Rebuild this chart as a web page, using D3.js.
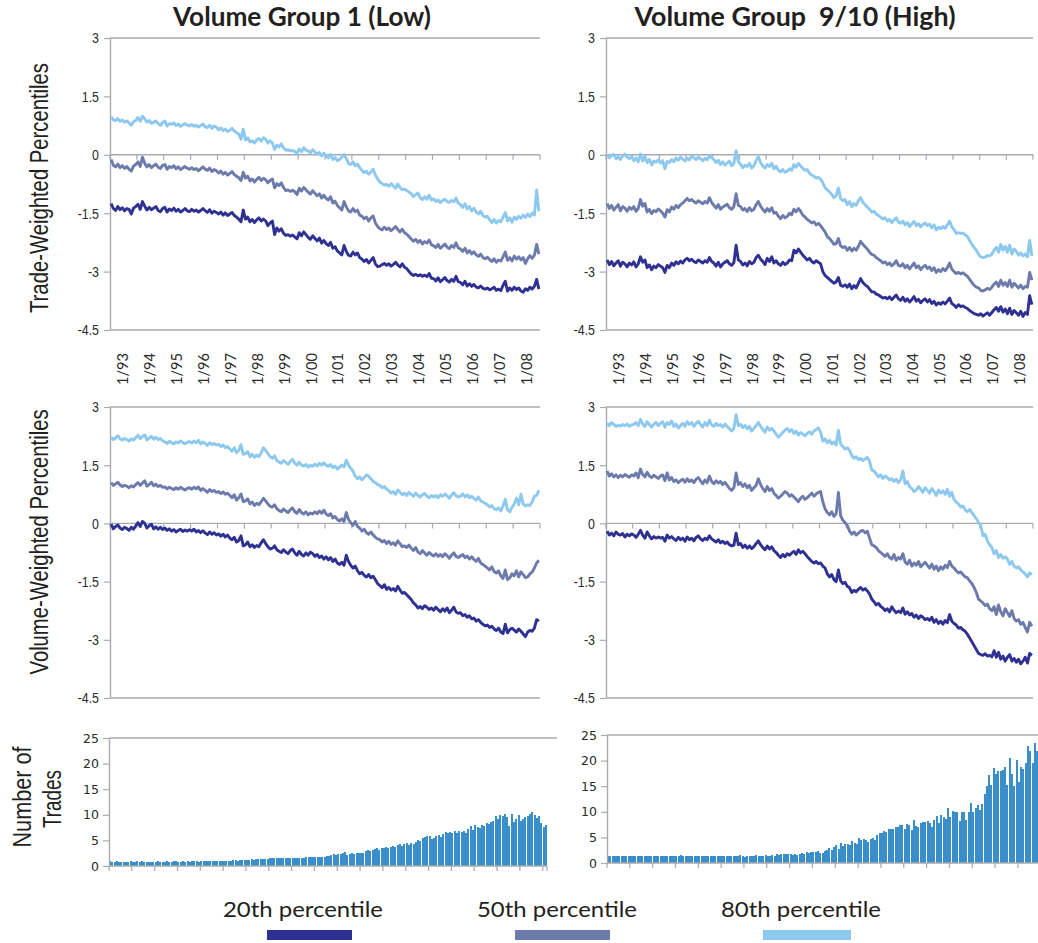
<!DOCTYPE html>
<html lang="en">
<head>
<meta charset="utf-8">
<title>Volume Group percentiles</title>
<script src="https://cdn.jsdelivr.net/npm/d3@7"></script>
<style>
body { margin: 0; background: #fff; }
svg { display: block; }
</style>
</head>
<body>
<script>
// ---------------- data ----------------
const years = ["93","94","95","96","97","98","99","00","01","02","03","04","05","06","07","08"];
const yearLabels = years.map(y => "1/" + y);
const pctLabels = ["20th percentile", "50th percentile", "80th percentile"];
const lineTicks = [3, 1.5, 0, -1.5, -3, -4.5];
const tradeTicks = [0, 5, 10, 15, 20, 25];
const titles = ["Volume Group 1 (Low)", "Volume Group  9/10 (High)"];
const rowTitles = ["Trade-Weighted Percentiles", "Volume-Weighted Percentiles"];

// one row per year, Jan..Dec
const tradeLow20 = [
-1.25,-1.38,-1.43,-1.33,-1.41,-1.36,-1.44,-1.38,-1.40,-1.52,-1.37,-1.33,
-1.27,-1.40,-1.20,-1.32,-1.42,-1.35,-1.41,-1.37,-1.33,-1.43,-1.46,-1.38,
-1.35,-1.47,-1.39,-1.43,-1.37,-1.45,-1.40,-1.47,-1.43,-1.38,-1.44,-1.46,
-1.40,-1.45,-1.42,-1.47,-1.43,-1.38,-1.44,-1.48,-1.41,-1.50,-1.45,-1.48,
-1.52,-1.47,-1.55,-1.49,-1.56,-1.52,-1.48,-1.56,-1.60,-1.65,-1.72,-1.42,
-1.65,-1.60,-1.72,-1.66,-1.74,-1.67,-1.62,-1.70,-1.65,-1.70,-1.82,-1.75,
-1.70,-2.05,-1.88,-1.96,-1.90,-2.02,-2.07,-2.05,-2.09,-2.06,-2.11,-2.16,
-2.00,-2.08,-1.98,-2.05,-2.12,-2.17,-2.08,-2.15,-2.21,-2.14,-2.27,-2.20,
-2.28,-2.33,-2.25,-2.40,-2.36,-2.47,-2.52,-2.57,-2.33,-2.48,-2.58,-2.60,
-2.50,-2.57,-2.52,-2.64,-2.68,-2.74,-2.69,-2.78,-2.71,-2.64,-2.80,-2.87,
-2.86,-2.82,-2.79,-2.84,-2.80,-2.86,-2.82,-2.76,-2.83,-2.88,-2.80,-2.89,
-2.92,-3.00,-3.06,-3.10,-3.07,-3.11,-3.08,-3.12,-3.09,-3.13,-3.05,-3.17,
-3.18,-3.24,-3.16,-3.26,-3.21,-3.15,-3.23,-3.27,-3.20,-3.25,-3.12,-3.26,
-3.28,-3.34,-3.25,-3.37,-3.31,-3.38,-3.33,-3.40,-3.42,-3.37,-3.43,-3.45,
-3.42,-3.47,-3.44,-3.40,-3.48,-3.45,-3.49,-3.35,-3.25,-3.50,-3.42,-3.48,
-3.40,-3.46,-3.42,-3.50,-3.53,-3.44,-3.48,-3.40,-3.45,-3.38,-3.20,-3.45
];
const tradeLow50 = [
-0.12,-0.27,-0.31,-0.24,-0.33,-0.28,-0.35,-0.30,-0.37,-0.42,-0.29,-0.25,
-0.18,-0.30,-0.06,-0.22,-0.31,-0.25,-0.33,-0.28,-0.24,-0.32,-0.35,-0.27,
-0.25,-0.37,-0.30,-0.33,-0.28,-0.36,-0.31,-0.38,-0.34,-0.30,-0.35,-0.37,
-0.33,-0.38,-0.35,-0.41,-0.36,-0.31,-0.37,-0.40,-0.34,-0.43,-0.38,-0.41,
-0.47,-0.42,-0.50,-0.45,-0.52,-0.48,-0.43,-0.51,-0.55,-0.59,-0.66,-0.45,
-0.60,-0.55,-0.67,-0.62,-0.70,-0.63,-0.58,-0.66,-0.60,-0.64,-0.72,-0.66,
-0.62,-0.85,-0.74,-0.79,-0.72,-0.84,-0.92,-0.90,-0.94,-0.91,-0.95,-1.02,
-0.86,-0.93,-0.84,-0.90,-0.96,-1.01,-0.92,-0.99,-1.05,-1.00,-1.11,-1.04,
-1.12,-1.16,-1.08,-1.24,-1.19,-1.30,-1.36,-1.42,-1.20,-1.33,-1.44,-1.47,
-1.38,-1.46,-1.42,-1.55,-1.58,-1.64,-1.60,-1.70,-1.62,-1.57,-1.75,-1.84,
-1.90,-1.93,-1.86,-1.92,-1.88,-1.95,-1.90,-1.84,-1.92,-1.98,-1.91,-2.00,
-2.04,-2.10,-2.16,-2.22,-2.17,-2.25,-2.20,-2.29,-2.23,-2.27,-2.19,-2.31,
-2.34,-2.38,-2.30,-2.40,-2.35,-2.29,-2.37,-2.41,-2.33,-2.38,-2.26,-2.39,
-2.42,-2.48,-2.40,-2.52,-2.46,-2.55,-2.49,-2.57,-2.61,-2.55,-2.64,-2.67,
-2.63,-2.69,-2.74,-2.67,-2.76,-2.70,-2.73,-2.62,-2.50,-2.71,-2.64,-2.73,
-2.60,-2.68,-2.62,-2.70,-2.64,-2.79,-2.67,-2.59,-2.66,-2.58,-2.30,-2.55
];
const tradeLow80 = [
0.97,0.90,0.88,0.93,0.86,0.89,0.84,0.87,0.82,0.76,0.85,0.88,
0.96,0.86,0.99,0.92,0.84,0.88,0.81,0.83,0.87,0.80,0.76,0.83,
0.87,0.74,0.80,0.78,0.82,0.75,0.79,0.73,0.77,0.80,0.76,0.74,
0.78,0.73,0.76,0.71,0.75,0.79,0.72,0.70,0.76,0.68,0.74,0.71,
0.64,0.69,0.62,0.66,0.60,0.63,0.68,0.61,0.57,0.53,0.40,0.66,
0.38,0.44,0.33,0.36,0.30,0.38,0.42,0.35,0.44,0.40,0.30,0.36,
0.30,0.14,0.25,0.20,0.28,0.17,0.12,0.13,0.10,0.11,0.09,0.03,
0.15,0.08,0.18,0.12,0.10,0.05,0.13,0.07,0.02,0.06,-0.03,0.04,
-0.05,-0.08,0.01,-0.12,-0.07,-0.15,-0.12,-0.06,0.01,-0.10,-0.22,-0.25,
-0.18,-0.28,-0.24,-0.33,-0.40,-0.46,-0.42,-0.50,-0.44,-0.37,-0.52,-0.62,
-0.70,-0.74,-0.78,-0.76,-0.81,-0.74,-0.80,-0.86,-0.75,-0.84,-0.90,-0.88,
-0.92,-0.96,-1.00,-1.07,-1.03,-0.98,-1.10,-1.15,-1.08,-1.14,-1.04,-1.16,
-1.13,-1.20,-1.16,-1.23,-1.18,-1.14,-1.20,-1.22,-1.17,-1.21,-1.11,-1.24,
-1.28,-1.35,-1.26,-1.39,-1.33,-1.44,-1.37,-1.47,-1.52,-1.45,-1.56,-1.60,
-1.58,-1.67,-1.74,-1.66,-1.75,-1.69,-1.72,-1.60,-1.48,-1.70,-1.62,-1.73,
-1.60,-1.66,-1.58,-1.63,-1.55,-1.61,-1.52,-1.59,-1.50,-1.55,-0.90,-1.45
];
const tradeHigh20 = [
-2.70,-2.82,-2.74,-2.85,-2.78,-2.72,-2.86,-2.76,-2.80,-2.88,-2.78,-2.83,
-2.75,-2.88,-2.80,-2.62,-2.76,-2.70,-2.90,-2.83,-2.95,-2.86,-2.90,-2.82,
-2.86,-2.90,-3.02,-2.84,-2.90,-2.78,-2.84,-2.75,-2.80,-2.73,-2.78,-2.70,
-2.66,-2.72,-2.68,-2.74,-2.77,-2.70,-2.74,-2.78,-2.72,-2.76,-2.64,-2.74,
-2.78,-2.86,-2.76,-2.88,-2.80,-2.76,-2.72,-2.80,-2.84,-2.77,-2.32,-2.70,
-2.74,-2.83,-2.78,-2.85,-2.74,-2.80,-2.76,-2.64,-2.58,-2.68,-2.74,-2.82,
-2.66,-2.74,-2.62,-2.78,-2.72,-2.80,-2.84,-2.76,-2.82,-2.78,-2.70,-2.72,
-2.45,-2.52,-2.42,-2.50,-2.58,-2.64,-2.70,-2.66,-2.74,-2.78,-2.72,-2.76,
-2.80,-3.00,-3.10,-3.15,-3.20,-3.25,-3.30,-3.26,-3.15,-3.35,-3.38,-3.34,
-3.40,-3.32,-3.44,-3.36,-3.42,-3.30,-3.18,-3.28,-3.34,-3.38,-3.45,-3.52,
-3.52,-3.58,-3.60,-3.64,-3.68,-3.66,-3.70,-3.65,-3.72,-3.66,-3.60,-3.70,
-3.74,-3.66,-3.76,-3.70,-3.78,-3.72,-3.64,-3.76,-3.71,-3.80,-3.74,-3.70,
-3.78,-3.72,-3.82,-3.76,-3.86,-3.80,-3.84,-3.78,-3.83,-3.76,-3.68,-3.82,
-3.86,-3.92,-3.85,-3.90,-3.88,-3.92,-3.95,-4.00,-4.04,-4.08,-4.10,-4.12,
-4.08,-4.14,-4.10,-4.06,-4.12,-4.05,-3.98,-3.92,-4.02,-3.90,-4.04,-3.96,
-4.08,-3.94,-4.10,-4.00,-4.06,-4.12,-4.02,-4.15,-4.05,-4.10,-3.62,-3.85
];
const tradeHigh50 = [
-1.25,-1.38,-1.30,-1.42,-1.35,-1.28,-1.44,-1.33,-1.37,-1.45,-1.35,-1.40,
-1.33,-1.45,-1.38,-1.15,-1.32,-1.25,-1.47,-1.40,-1.51,-1.43,-1.46,-1.39,
-1.44,-1.50,-1.60,-1.41,-1.47,-1.34,-1.40,-1.30,-1.36,-1.28,-1.24,-1.18,
-1.12,-1.18,-1.15,-1.20,-1.24,-1.18,-1.22,-1.26,-1.20,-1.24,-1.10,-1.22,
-1.30,-1.37,-1.28,-1.40,-1.34,-1.31,-1.27,-1.36,-1.40,-1.33,-1.00,-1.30,
-1.33,-1.42,-1.38,-1.46,-1.36,-1.44,-1.40,-1.28,-1.20,-1.32,-1.40,-1.47,
-1.38,-1.45,-1.36,-1.50,-1.48,-1.58,-1.64,-1.56,-1.62,-1.58,-1.50,-1.54,
-1.40,-1.46,-1.38,-1.45,-1.55,-1.60,-1.66,-1.70,-1.75,-1.72,-1.80,-1.76,
-1.82,-1.90,-1.98,-2.10,-2.15,-2.22,-2.30,-2.28,-2.15,-2.34,-2.38,-2.36,
-2.45,-2.38,-2.47,-2.40,-2.45,-2.35,-2.22,-2.30,-2.36,-2.42,-2.50,-2.56,
-2.58,-2.64,-2.68,-2.72,-2.78,-2.75,-2.82,-2.78,-2.85,-2.80,-2.72,-2.84,
-2.86,-2.80,-2.90,-2.84,-2.93,-2.86,-2.78,-2.90,-2.85,-2.95,-2.88,-2.84,
-2.92,-2.88,-2.97,-2.90,-3.02,-2.95,-3.00,-2.92,-2.98,-2.90,-2.78,-2.94,
-3.00,-3.05,-3.02,-3.06,-3.03,-3.08,-3.12,-3.20,-3.28,-3.35,-3.40,-3.42,
-3.48,-3.50,-3.47,-3.43,-3.46,-3.40,-3.32,-3.27,-3.38,-3.22,-3.35,-3.28,
-3.38,-3.22,-3.40,-3.30,-3.36,-3.42,-3.35,-3.44,-3.38,-3.40,-3.02,-3.22
];
const tradeHigh80 = [
0.00,-0.08,-0.02,0.01,-0.10,-0.05,-0.12,-0.03,0.02,-0.06,-0.10,-0.04,
-0.15,-0.08,-0.18,0.02,-0.16,-0.04,-0.20,-0.12,-0.26,-0.16,-0.19,-0.13,
-0.21,-0.15,-0.36,-0.17,-0.20,-0.12,-0.18,-0.08,-0.14,-0.06,-0.11,-0.16,
-0.09,-0.13,-0.03,-0.08,-0.12,-0.06,-0.10,-0.15,-0.09,-0.13,-0.02,-0.08,
-0.12,-0.20,-0.14,-0.25,-0.18,-0.27,-0.21,-0.16,-0.28,-0.22,0.10,-0.18,
-0.24,-0.33,-0.27,-0.30,-0.22,-0.34,-0.28,-0.15,-0.05,-0.20,-0.29,-0.34,
-0.25,-0.30,-0.22,-0.36,-0.29,-0.40,-0.44,-0.38,-0.45,-0.42,-0.36,-0.40,
-0.25,-0.32,-0.22,-0.29,-0.35,-0.40,-0.38,-0.47,-0.52,-0.55,-0.60,-0.58,
-0.63,-0.72,-0.85,-0.90,-0.95,-1.02,-1.10,-1.05,-0.85,-1.12,-1.18,-1.15,
-1.28,-1.20,-1.33,-1.25,-1.30,-1.18,-1.10,-1.22,-1.28,-1.34,-1.40,-1.47,
-1.45,-1.52,-1.56,-1.60,-1.65,-1.62,-1.70,-1.66,-1.74,-1.68,-1.62,-1.73,
-1.76,-1.70,-1.80,-1.74,-1.84,-1.78,-1.71,-1.82,-1.77,-1.85,-1.79,-1.75,
-1.82,-1.78,-1.88,-1.80,-1.93,-1.86,-1.90,-1.84,-1.89,-1.80,-1.70,-1.85,
-1.92,-2.02,-2.00,-2.02,-2.01,-2.05,-2.10,-2.20,-2.30,-2.38,-2.45,-2.55,
-2.62,-2.64,-2.63,-2.58,-2.60,-2.55,-2.45,-2.38,-2.50,-2.30,-2.45,-2.35,
-2.50,-2.32,-2.55,-2.42,-2.48,-2.58,-2.52,-2.60,-2.55,-2.62,-2.20,-2.60
];
const volLow20 = [
-0.02,-0.14,-0.08,-0.04,-0.12,-0.16,-0.10,-0.13,-0.18,-0.10,-0.15,-0.06,
0.02,-0.08,0.05,0.00,-0.12,-0.06,-0.02,-0.14,-0.09,-0.15,-0.10,-0.16,
-0.12,-0.18,-0.14,-0.20,-0.16,-0.22,-0.18,-0.15,-0.21,-0.17,-0.20,-0.16,
-0.20,-0.15,-0.22,-0.18,-0.24,-0.19,-0.25,-0.29,-0.22,-0.28,-0.24,-0.30,
-0.27,-0.33,-0.28,-0.35,-0.30,-0.38,-0.42,-0.36,-0.48,-0.44,-0.32,-0.58,
-0.55,-0.48,-0.60,-0.55,-0.62,-0.57,-0.60,-0.50,-0.42,-0.52,-0.60,-0.66,
-0.64,-0.58,-0.68,-0.72,-0.75,-0.68,-0.74,-0.78,-0.70,-0.66,-0.76,-0.82,
-0.72,-0.80,-0.84,-0.76,-0.82,-0.74,-0.78,-0.85,-0.80,-0.88,-0.84,-0.92,
-0.86,-0.94,-0.88,-0.98,-0.92,-1.02,-1.06,-1.00,-1.08,-0.82,-0.98,-1.08,
-1.15,-1.10,-1.22,-1.30,-1.26,-1.34,-1.38,-1.32,-1.40,-1.36,-1.45,-1.55,
-1.60,-1.66,-1.58,-1.70,-1.65,-1.72,-1.68,-1.74,-1.62,-1.72,-1.80,-1.78,
-1.84,-1.90,-1.96,-2.05,-2.10,-2.18,-2.14,-2.20,-2.12,-2.16,-2.22,-2.18,
-2.24,-2.16,-2.22,-2.28,-2.20,-2.26,-2.18,-2.30,-2.24,-2.16,-2.28,-2.32,
-2.30,-2.38,-2.35,-2.42,-2.38,-2.46,-2.44,-2.52,-2.48,-2.55,-2.60,-2.64,
-2.62,-2.68,-2.65,-2.72,-2.76,-2.70,-2.80,-2.84,-2.60,-2.82,-2.74,-2.70,
-2.75,-2.80,-2.72,-2.78,-2.85,-2.92,-2.80,-2.76,-2.78,-2.70,-2.48,-2.52
];
const volLow50 = [
1.05,0.98,1.02,1.06,0.99,0.95,0.98,0.96,0.92,0.97,0.94,1.00,
1.05,0.98,1.04,1.10,0.96,1.00,1.06,0.97,1.01,0.95,0.98,0.93,
0.94,0.89,0.93,0.90,0.87,0.92,0.88,0.93,0.89,0.86,0.90,0.92,
0.88,0.93,0.89,0.94,0.85,0.90,0.85,0.80,0.87,0.82,0.85,0.80,
0.82,0.77,0.81,0.75,0.78,0.72,0.66,0.74,0.60,0.66,0.76,0.56,
0.58,0.63,0.50,0.55,0.46,0.52,0.48,0.56,0.65,0.58,0.50,0.44,
0.42,0.48,0.38,0.33,0.30,0.37,0.32,0.28,0.35,0.40,0.30,0.26,
0.36,0.28,0.24,0.30,0.22,0.27,0.24,0.30,0.25,0.32,0.26,0.34,
0.24,0.20,0.25,0.14,0.18,0.10,0.06,0.12,0.05,0.28,0.10,0.02,
-0.05,0.05,-0.08,-0.12,-0.20,-0.15,-0.24,-0.28,-0.22,-0.30,-0.36,-0.40,
-0.42,-0.48,-0.44,-0.52,-0.46,-0.54,-0.50,-0.56,-0.45,-0.52,-0.60,-0.58,
-0.62,-0.56,-0.64,-0.70,-0.62,-0.74,-0.78,-0.70,-0.76,-0.82,-0.75,-0.80,
-0.84,-0.78,-0.85,-0.80,-0.86,-0.78,-0.83,-0.90,-0.82,-0.76,-0.85,-0.88,
-0.84,-0.80,-0.88,-0.84,-0.92,-0.86,-0.93,-0.98,-0.90,-1.02,-1.06,-1.10,
-1.15,-1.20,-1.12,-1.24,-1.28,-1.22,-1.35,-1.42,-1.20,-1.45,-1.40,-1.30,
-1.35,-1.22,-1.38,-1.25,-1.32,-1.40,-1.38,-1.30,-1.25,-1.15,-1.02,-0.95
];
const volLow80 = [
2.22,2.16,2.20,2.26,2.18,2.15,2.19,2.16,2.12,2.18,2.15,2.21,
2.27,2.18,2.24,2.28,2.15,2.20,2.25,2.17,2.22,2.16,2.19,2.13,
2.10,2.06,2.12,2.08,2.05,2.10,2.07,2.13,2.08,2.05,2.09,2.11,
2.07,2.12,2.08,2.14,2.05,2.10,2.06,2.01,2.08,2.03,2.06,2.02,
2.04,1.98,2.02,1.95,1.98,1.92,1.86,1.95,1.82,1.88,2.03,1.78,
1.80,1.85,1.72,1.78,1.70,1.76,1.72,1.82,1.95,1.88,1.80,1.72,
1.68,1.74,1.62,1.58,1.55,1.62,1.57,1.52,1.60,1.65,1.55,1.50,
1.58,1.50,1.48,1.52,1.45,1.50,1.47,1.53,1.48,1.55,1.50,1.56,
1.50,1.47,1.52,1.44,1.48,1.40,1.45,1.50,1.46,1.63,1.50,1.42,
1.35,1.22,1.15,1.20,1.12,1.18,1.25,1.22,1.15,1.08,1.05,1.00,
0.98,0.92,0.95,0.88,0.85,0.78,0.82,0.75,0.86,0.80,0.74,0.78,
0.72,0.80,0.75,0.70,0.78,0.72,0.68,0.74,0.77,0.70,0.66,0.72,
0.68,0.72,0.66,0.74,0.70,0.76,0.71,0.65,0.73,0.79,0.72,0.68,
0.70,0.76,0.68,0.74,0.66,0.70,0.64,0.60,0.68,0.58,0.55,0.52,
0.48,0.42,0.46,0.38,0.35,0.40,0.32,0.45,0.62,0.35,0.30,0.42,
0.50,0.65,0.48,0.75,0.50,0.45,0.48,0.46,0.55,0.70,0.72,0.85
];
const volHigh20 = [
-0.20,-0.30,-0.25,-0.32,-0.22,-0.28,-0.30,-0.26,-0.35,-0.28,-0.32,-0.27,
-0.30,-0.36,-0.28,-0.18,-0.30,-0.38,-0.22,-0.32,-0.40,-0.34,-0.38,-0.35,
-0.38,-0.36,-0.46,-0.30,-0.38,-0.34,-0.40,-0.44,-0.36,-0.42,-0.38,-0.46,
-0.35,-0.42,-0.38,-0.45,-0.36,-0.32,-0.40,-0.44,-0.38,-0.42,-0.32,-0.40,
-0.44,-0.48,-0.42,-0.50,-0.46,-0.52,-0.48,-0.55,-0.58,-0.56,-0.25,-0.55,
-0.52,-0.62,-0.56,-0.64,-0.58,-0.65,-0.60,-0.52,-0.45,-0.55,-0.62,-0.68,
-0.58,-0.66,-0.60,-0.70,-0.75,-0.82,-0.88,-0.80,-0.86,-0.78,-0.82,-0.76,
-0.72,-0.80,-0.68,-0.76,-0.72,-0.78,-0.86,-0.92,-0.98,-1.02,-0.98,-1.04,
-1.02,-1.10,-1.15,-1.30,-1.38,-1.32,-1.45,-1.50,-1.20,-1.48,-1.55,-1.52,
-1.62,-1.66,-1.78,-1.72,-1.76,-1.70,-1.65,-1.72,-1.68,-1.74,-1.82,-1.95,
-2.02,-2.10,-2.06,-2.14,-2.18,-2.25,-2.20,-2.28,-2.15,-2.24,-2.30,-2.26,
-2.30,-2.18,-2.34,-2.28,-2.36,-2.32,-2.42,-2.36,-2.45,-2.38,-2.42,-2.48,
-2.45,-2.50,-2.42,-2.55,-2.48,-2.58,-2.52,-2.60,-2.50,-2.56,-2.35,-2.52,
-2.58,-2.62,-2.70,-2.68,-2.74,-2.78,-2.86,-2.95,-3.05,-3.15,-3.25,-3.35,
-3.38,-3.40,-3.36,-3.42,-3.40,-3.44,-3.28,-3.45,-3.32,-3.50,-3.42,-3.55,
-3.45,-3.38,-3.55,-3.48,-3.58,-3.50,-3.62,-3.55,-3.45,-3.60,-3.35,-3.40
];
const volHigh50 = [
1.35,1.22,1.28,1.20,1.25,1.18,1.24,1.20,1.26,1.22,1.19,1.25,
1.22,1.30,1.18,1.40,1.26,1.20,1.32,1.22,1.18,1.24,1.20,1.16,
1.22,1.25,1.10,1.30,1.12,1.18,1.08,1.12,1.05,1.10,1.14,1.06,
1.15,1.08,1.12,1.05,1.14,1.18,1.10,1.02,1.12,1.05,1.22,1.08,
1.02,1.10,1.04,1.08,1.00,1.06,0.98,0.90,0.85,0.92,1.30,1.00,
1.05,0.95,1.02,0.92,0.98,0.85,0.92,0.98,1.15,1.00,0.90,0.82,
0.95,0.85,0.90,0.78,0.72,0.65,0.70,0.76,0.82,0.78,0.70,0.74,
0.68,0.62,0.56,0.65,0.70,0.62,0.66,0.72,0.78,0.70,0.76,0.80,
0.82,0.55,0.38,0.28,0.22,0.30,0.18,0.25,0.80,0.20,0.08,0.02,
-0.05,-0.20,-0.28,-0.22,-0.30,-0.25,-0.20,-0.18,-0.24,-0.20,-0.38,-0.55,
-0.58,-0.62,-0.70,-0.75,-0.80,-0.85,-0.78,-0.88,-0.92,-0.80,-0.95,-0.88,
-0.92,-0.78,-1.00,-1.05,-0.95,-1.10,-1.02,-1.08,-0.98,-1.12,-1.06,-1.00,
-1.08,-1.15,-1.05,-1.18,-1.10,-1.22,-1.12,-1.18,-1.08,-1.14,-0.98,-1.10,
-1.15,-1.22,-1.28,-1.25,-1.32,-1.38,-1.40,-1.48,-1.55,-1.65,-1.78,-1.95,
-2.00,-2.05,-2.12,-2.08,-2.20,-2.25,-2.15,-2.35,-2.10,-2.28,-2.38,-2.20,
-2.30,-2.40,-2.25,-2.45,-2.52,-2.48,-2.60,-2.55,-2.68,-2.80,-2.55,-2.65
];
const volHigh80 = [
2.58,2.52,2.60,2.55,2.50,2.53,2.51,2.55,2.52,2.56,2.50,2.54,
2.55,2.60,2.52,2.68,2.56,2.50,2.62,2.55,2.48,2.56,2.60,2.52,
2.58,2.62,2.48,2.60,2.55,2.64,2.50,2.56,2.46,2.52,2.58,2.50,
2.62,2.55,2.60,2.50,2.58,2.63,2.55,2.48,2.60,2.52,2.66,2.54,
2.50,2.58,2.52,2.55,2.48,2.56,2.50,2.44,2.38,2.45,2.80,2.52,
2.55,2.47,2.52,2.44,2.50,2.38,2.45,2.52,2.60,2.50,2.42,2.35,
2.48,2.40,2.45,2.38,2.30,2.22,2.28,2.34,2.40,2.45,2.36,2.42,
2.32,2.38,2.28,2.34,2.30,2.26,2.32,2.36,2.30,2.38,2.42,2.46,
2.35,2.12,2.18,2.08,2.14,2.05,2.10,2.02,2.40,2.05,1.98,1.92,
1.95,1.88,1.75,1.68,1.72,1.64,1.68,1.62,1.66,1.70,1.60,1.38,
1.35,1.28,1.20,1.25,1.16,1.22,1.18,1.12,1.15,1.08,1.14,1.05,
1.12,1.35,1.02,1.08,0.95,0.90,0.82,0.86,0.95,0.88,0.80,0.92,
0.85,0.78,0.90,0.82,0.72,0.86,0.78,0.84,0.75,0.88,0.70,0.80,
0.62,0.55,0.50,0.42,0.45,0.35,0.30,0.36,0.28,0.20,0.12,0.03,
-0.05,-0.32,-0.28,-0.45,-0.55,-0.62,-0.78,-0.70,-0.88,-0.80,-0.90,-0.86,
-0.92,-1.05,-0.98,-1.10,-1.15,-1.12,-1.20,-1.25,-1.30,-1.38,-1.28,-1.32
];
const tradesLow = [
0.95,0.85,0.86,0.88,0.84,0.87,0.85,0.86,0.83,0.88,0.86,0.84,
0.88,0.85,0.90,0.86,0.84,0.83,0.87,0.86,0.84,0.88,0.85,0.83,
0.87,0.90,0.85,0.84,0.88,0.92,0.86,0.84,0.89,0.86,0.88,0.85,
0.90,0.92,0.88,0.86,0.90,0.94,0.88,0.91,0.95,0.90,0.93,0.96,
0.98,1.00,0.95,1.02,1.05,1.00,1.08,1.10,1.05,1.15,1.12,1.20,
1.18,1.25,1.30,1.22,1.35,1.40,1.32,1.45,1.38,1.42,1.50,1.48,
1.55,1.60,1.52,1.62,1.58,1.65,1.60,1.63,1.58,1.66,1.62,1.65,
1.65,1.60,1.70,1.75,1.68,1.80,1.72,1.78,1.85,1.75,1.82,1.90,
2.00,2.10,2.25,2.15,2.35,2.30,2.60,2.75,2.20,2.40,2.45,2.30,
2.55,2.45,2.50,2.60,2.85,3.05,2.90,3.15,3.35,3.50,3.20,3.45,
3.60,3.75,3.50,3.80,3.95,3.70,4.05,4.20,3.85,4.25,4.40,4.10,
4.55,4.25,4.75,5.05,4.80,5.50,5.70,5.85,5.80,5.30,5.55,5.95,
6.10,5.60,6.25,6.55,6.40,6.70,6.50,6.75,6.45,6.80,6.60,6.85,
6.50,7.25,7.80,7.10,7.95,7.60,7.45,8.00,7.75,8.35,8.20,8.55,
8.75,9.70,9.20,10.05,9.85,10.10,9.60,7.80,10.20,8.50,9.20,9.95,
8.80,9.10,9.50,9.80,10.20,10.60,9.90,9.40,9.70,8.40,7.60,8.00
];
const tradesHigh = [
1.30,1.32,1.30,1.31,1.30,1.29,1.32,1.30,1.31,1.30,1.29,1.31,
1.30,1.32,1.30,1.29,1.31,1.30,1.32,1.30,1.29,1.31,1.30,1.30,
1.31,1.30,1.45,1.32,1.30,1.29,1.31,1.30,1.48,1.31,1.30,1.29,
1.30,1.32,1.30,1.31,1.29,1.30,1.45,1.31,1.30,1.32,1.30,1.31,
1.30,1.29,1.31,1.30,1.45,1.32,1.30,1.31,1.30,1.29,1.50,1.30,
1.20,1.35,1.32,1.45,1.40,1.48,1.38,1.45,1.30,1.50,1.45,1.30,
1.50,1.40,1.70,1.55,1.80,1.85,1.82,1.70,1.75,1.55,1.70,1.60,
1.75,1.90,1.70,2.10,2.05,2.15,2.10,2.10,2.30,2.00,2.05,2.30,
2.50,2.90,2.60,3.20,3.50,2.80,3.90,3.40,3.70,3.75,3.60,4.20,
3.90,3.80,4.80,4.50,4.60,4.55,4.10,4.70,4.85,4.50,5.40,5.90,
5.80,6.30,6.00,6.55,6.60,6.55,7.00,7.00,7.50,7.45,6.60,7.70,
7.40,6.40,8.40,7.20,7.00,7.90,8.10,8.00,8.30,7.80,7.10,8.40,
9.10,7.80,9.30,8.90,8.60,10.70,9.00,10.10,10.00,9.90,8.20,9.90,
9.90,8.40,9.90,11.70,9.90,10.80,11.30,10.40,11.60,13.50,15.00,17.10,
15.20,18.50,17.40,17.90,17.90,18.10,18.70,15.20,20.50,17.40,15.10,20.10,
15.90,18.80,18.30,19.50,22.90,21.80,19.60,23.40,21.90,22.50,20.80,23.00
];

// monthly categories derived from the year list
const months = years.flatMap(y => d3.range(1, 13).map(m => m + "/" + y));

// ---------------- drawing ----------------
const W = 1038, H = 943;
const colors = ["#2E3192", "#6D7BAC", "#8DC8EE"];
const barColor = "#3A8FCA";
const grey = "#A7AAAF";
const ink = "#231F20";

const svg = d3.select("body").append("svg").attr("width", W).attr("height", H);
svg.append("rect").attr("width", W).attr("height", H).attr("fill", "#fff");

function squeeze(sel, k) {
  sel.each(function () {
    const w = this.getComputedTextLength();
    d3.select(this).attr("textLength", w * k).attr("lengthAdjust", "spacingAndGlyphs");
  });
}

function linePanel(x0, x1, yTop, yBot, series, withDates) {
  const x = d3.scaleBand().domain(months).range([x0, x1]);
  const yearX = d3.scaleBand().domain(yearLabels).range([x0, x1]);
  const y = d3.scaleLinear().domain([-4.5, 3]).range([yBot, yTop]);
  const g = svg.append("g");

  g.selectAll("line.frame").data([3, 0, -4.5]).join("line")
    .attr("x1", x0).attr("x2", x1)
    .attr("y1", d => y(d)).attr("y2", d => y(d))
    .attr("stroke", grey).attr("stroke-width", 1.4);

  // year ticks hanging under the zero line
  g.selectAll("line.yt").data(yearLabels.map(d => yearX(d)).concat([x1])).join("line")
    .attr("x1", d => d).attr("x2", d => d)
    .attr("y1", y(0)).attr("y2", y(0) + 5)
    .attr("stroke", grey).attr("stroke-width", 1.2);

  const ax = g.append("g").attr("transform", `translate(${x0},0)`)
    .call(d3.axisLeft(y).tickValues(lineTicks).tickSize(6).tickSizeOuter(0)
      .tickPadding(5).tickFormat(d => String(d)));
  ax.select(".domain").attr("stroke", grey).attr("stroke-width", 1.4);
  ax.selectAll(".tick line").attr("stroke", grey).attr("stroke-width", 1.2);
  ax.selectAll(".tick text")
    .attr("font-family", "'Liberation Sans', Arial, sans-serif")
    .attr("font-size", 15.5).attr("fill", "#2a2a2a");
  squeeze(ax.selectAll(".tick text"), 0.8);

  const line = d3.line()
    .x((d, i) => x(months[i]) + x.bandwidth() / 2)
    .y(d => y(d));
  series.slice().reverse().forEach((s, k) => {
    g.append("path").attr("d", line(s))
      .attr("fill", "none")
      .attr("stroke", colors[series.length - 1 - k])
      .attr("stroke-width", 2.9)
      .attr("stroke-linejoin", "round");
  });

  if (withDates) {
    g.selectAll("text.date").data(yearLabels).join("text")
      .attr("transform", d => `translate(${yearX(d) + yearX.bandwidth() / 2 + 5},${yBot + 23}) rotate(-90)`)
      .attr("text-anchor", "end")
      .attr("font-family", "Lato, 'Open Sans', sans-serif")
      .attr("font-size", 15.5)
      .attr("fill", "#2a2a2a")
      .attr("textLength", 32).attr("lengthAdjust", "spacingAndGlyphs")
      .text(d => d);
  }
}

function barPanel(x0, x1, yTop, yBot, values) {
  const x = d3.scaleBand().domain(months).range([x0, x1]).paddingInner(0.12);
  const y = d3.scaleLinear().domain([0, 25]).range([yBot, yTop]);
  const g = svg.append("g");

  g.append("line").attr("x1", x0).attr("x2", x1 + 10)
    .attr("y1", y(25)).attr("y2", y(25))
    .attr("stroke", grey).attr("stroke-width", 1.4);

  g.selectAll("rect").data(values).join("rect")
    .attr("x", (d, i) => x(months[i]))
    .attr("width", x.bandwidth())
    .attr("y", d => y(d))
    .attr("height", d => y(0) - y(d))
    .attr("fill", barColor)
    .attr("shape-rendering", "crispEdges");

  g.append("line").attr("x1", x0).attr("x2", x1)
    .attr("y1", y(0)).attr("y2", y(0))
    .attr("stroke", grey).attr("stroke-width", 1.6);

  const tickPos = months.filter((m, i) => i % 10 === 0).map(m => x(m)).concat([x1]);
  g.selectAll("line.bt").data(tickPos).join("line")
    .attr("x1", d => d).attr("x2", d => d)
    .attr("y1", y(0)).attr("y2", y(0) + 5)
    .attr("stroke", grey).attr("stroke-width", 1.2);

  const ax = g.append("g").attr("transform", `translate(${x0},0)`)
    .call(d3.axisLeft(y).tickValues(tradeTicks).tickSize(6).tickSizeOuter(0).tickPadding(4));
  ax.select(".domain").attr("stroke", grey).attr("stroke-width", 1.4);
  ax.selectAll(".tick line").attr("stroke", grey).attr("stroke-width", 1.2);
  ax.selectAll(".tick text")
    .attr("font-family", "'DejaVu Sans', Verdana, sans-serif")
    .attr("font-size", 12.5).attr("fill", "#2a2a2a");
}

// panels
linePanel(110, 540, 38, 330, [tradeLow20, tradeLow50, tradeLow80], true);
linePanel(606, 1033, 38, 330, [tradeHigh20, tradeHigh50, tradeHigh80], true);
linePanel(110, 540, 407, 698, [volLow20, volLow50, volLow80], false);
linePanel(606, 1033, 407, 698, [volHigh20, volHigh50, volHigh80], false);
barPanel(109, 547, 738, 866, tradesLow);
barPanel(607, 1045, 735, 863, tradesHigh);

// column titles
const titleLayout = [{ cx: 302, len: 258 }, { cx: 795, len: 321 }];
titles.forEach((t, i) => {
  svg.append("text")
    .attr("x", titleLayout[i].cx).attr("y", 26)
    .attr("text-anchor", "middle")
    .attr("font-family", "Lato, 'Open Sans', sans-serif")
    .attr("font-weight", 700).attr("font-size", 26)
    .attr("fill", ink)
    .style("white-space", "pre")
    .attr("textLength", titleLayout[i].len).attr("lengthAdjust", "spacingAndGlyphs")
    .text(t);
});

// row titles
const rowLayout = [{ cy: 188, len: 250 }, { cy: 542, len: 265 }];
rowTitles.forEach((t, i) => {
  svg.append("text")
    .attr("transform", `translate(48,${rowLayout[i].cy}) rotate(-90)`)
    .attr("text-anchor", "middle")
    .attr("font-family", "'Liberation Sans', Arial, sans-serif")
    .attr("font-size", 25).attr("fill", ink)
    .attr("textLength", rowLayout[i].len).attr("lengthAdjust", "spacingAndGlyphs")
    .text(t);
});
[["Number of", 31, 797, 101], ["Trades", 61, 799, 58]].forEach(([t, bx, cy, len]) => {
  svg.append("text")
    .attr("transform", `translate(${bx},${cy}) rotate(-90)`)
    .attr("text-anchor", "middle")
    .attr("font-family", "'Liberation Sans', Arial, sans-serif")
    .attr("font-size", 25).attr("fill", ink)
    .attr("textLength", len).attr("lengthAdjust", "spacingAndGlyphs")
    .text(t);
});

// legend
const legendLayout = [
  { cx: 303, sx: 267, sw: 85 },
  { cx: 557, sx: 515, sw: 95 },
  { cx: 801, sx: 763, sw: 88 }
];
pctLabels.forEach((t, i) => {
  const L = legendLayout[i];
  svg.append("text")
    .attr("x", L.cx).attr("y", 917)
    .attr("text-anchor", "middle")
    .attr("font-family", "Lato, 'Open Sans', sans-serif")
    .attr("font-size", 21).attr("fill", ink)
    .attr("textLength", 160).attr("lengthAdjust", "spacingAndGlyphs")
    .text(t);
  svg.append("rect")
    .attr("x", L.sx).attr("y", 930).attr("width", L.sw).attr("height", 10)
    .attr("fill", colors[i]);
});
</script>
</body>
</html>
